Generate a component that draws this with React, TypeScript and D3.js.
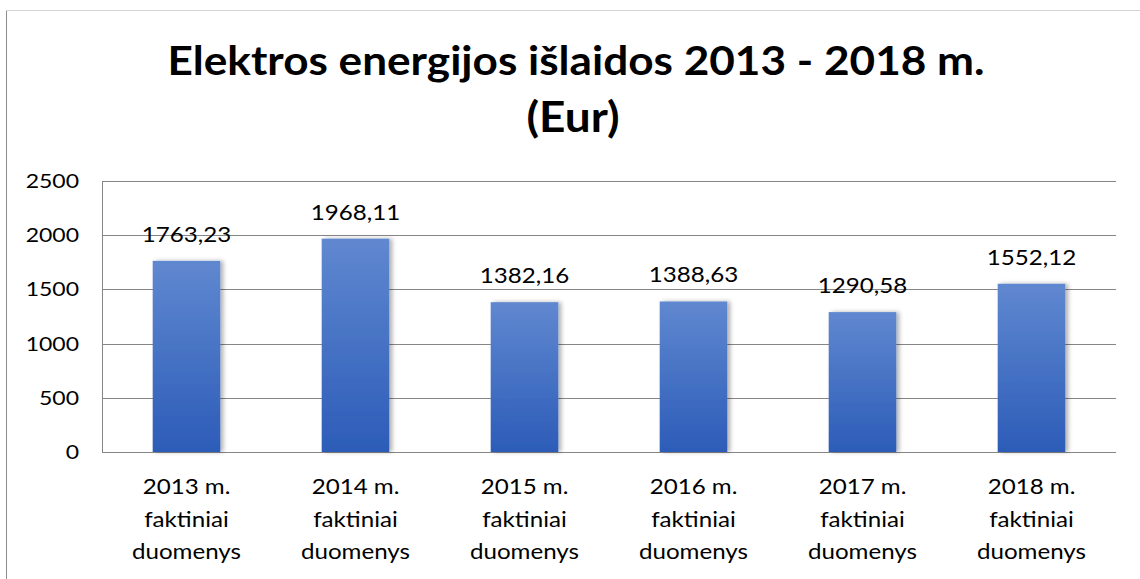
import { useEffect } from 'react';
import * as d3 from 'd3';

const categories = ['2013', '2014', '2015', '2016', '2017', '2018'];
const values = [1763.23, 1968.11, 1382.16, 1388.63, 1290.58, 1552.12];
const yTicks = [0, 500, 1000, 1500, 2000, 2500];
const titleLines = ['Elektros energijos išlaidos 2013 - 2018 m.', '(Eur)'];
const catSuffix = ['m.', 'faktiniai', 'duomenys'];

const W = 1140;
const H = 579;
const FONT = 'Lato, "Open Sans", sans-serif';
// the source text is a little wider than Lato, so stretch it horizontally
const STRETCH = 1.15;

const fmt = (v: number) => v.toFixed(2).replace('.', ',');

function Label({
  x,
  y,
  anchor = 'middle',
  size = 21,
  children,
}: {
  x: number;
  y: number;
  anchor?: 'start' | 'middle' | 'end';
  size?: number;
  children: string | number;
}) {
  return (
    <g transform={`translate(${x}, ${y}) scale(${STRETCH}, 1)`}>
      <text textAnchor={anchor} fontFamily={FONT} fontSize={size} fill="#000">
        {children}
      </text>
    </g>
  );
}

export default function App() {
  useEffect(() => {
    document.body.style.margin = '0';
  }, []);

  const plot = { left: 102, right: 1116, top: 181, bottom: 452 };

  const x = d3
    .scaleBand<string>()
    .domain(categories)
    .range([plot.left, plot.right])
    .paddingInner(0.6)
    .paddingOuter(0.3);
  const y = d3.scaleLinear().domain([0, 2500]).range([plot.bottom, plot.top]);

  return (
    <svg width={W} height={H} style={{ display: 'block', background: '#fff' }}>
      <defs>
        <linearGradient id="barGrad" x1="0" y1="0" x2="0" y2="1">
          <stop offset="0%" stopColor="#6088d0" />
          <stop offset="100%" stopColor="#2c5cb8" />
        </linearGradient>
        <filter id="barShadow" x="-20%" y="-5%" width="150%" height="110%">
          <feDropShadow dx={3} dy={0} stdDeviation={2.2} floodColor="#000" floodOpacity={0.3} />
        </filter>
      </defs>

      {/* outer frame */}
      <line x1={6.5} x2={6.5} y1={10} y2={H} stroke="#8c8c8c" strokeWidth={1} />
      <line x1={6} x2={W} y1={10.5} y2={10.5} stroke="#d4d4d4" strokeWidth={1} />

      {/* title */}
      <text
        x={576}
        y={75}
        textAnchor="middle"
        fontFamily={FONT}
        fontWeight={700}
        fontSize={41}
        fill="#000"
        textLength={817}
        lengthAdjust="spacingAndGlyphs"
      >
        {titleLines[0]}
      </text>
      <text
        x={573}
        y={132}
        textAnchor="middle"
        fontFamily={FONT}
        fontWeight={700}
        fontSize={42}
        fill="#000"
        textLength={93}
        lengthAdjust="spacingAndGlyphs"
      >
        {titleLines[1]}
      </text>

      {/* gridlines + y labels */}
      {yTicks.map((t) => (
        <g key={t}>
          <line
            x1={plot.left}
            x2={plot.right}
            y1={Math.round(y(t)) + 0.5}
            y2={Math.round(y(t)) + 0.5}
            stroke="#868686"
            strokeWidth={1}
          />
          <Label x={79} y={y(t) + 7} anchor="end" size={20}>
            {t}
          </Label>
        </g>
      ))}
      <line
        x1={plot.left + 0.5}
        x2={plot.left + 0.5}
        y1={plot.top}
        y2={plot.bottom}
        stroke="#868686"
        strokeWidth={1}
      />

      {/* bars */}
      {categories.map((c, i) => {
        const v = values[i];
        const bx = x(c) ?? 0;
        return (
          <g key={c}>
            <rect
              x={bx}
              y={y(v)}
              width={x.bandwidth()}
              height={plot.bottom - y(v)}
              fill="url(#barGrad)"
              filter="url(#barShadow)"
            />
            <Label x={bx + x.bandwidth() / 2} y={y(v) - 19}>
              {fmt(v)}
            </Label>
          </g>
        );
      })}

      {/* category labels, three lines each */}
      {categories.map((c) => {
        const cx = (x(c) ?? 0) + x.bandwidth() / 2;
        const lines = [`${c} ${catSuffix[0]}`, catSuffix[1], catSuffix[2]];
        return (
          <g key={`cl-${c}`}>
            {lines.map((l, j) => (
              <Label key={j} x={cx} y={494 + j * 32.5}>
                {l}
              </Label>
            ))}
          </g>
        );
      })}
    </svg>
  );
}
